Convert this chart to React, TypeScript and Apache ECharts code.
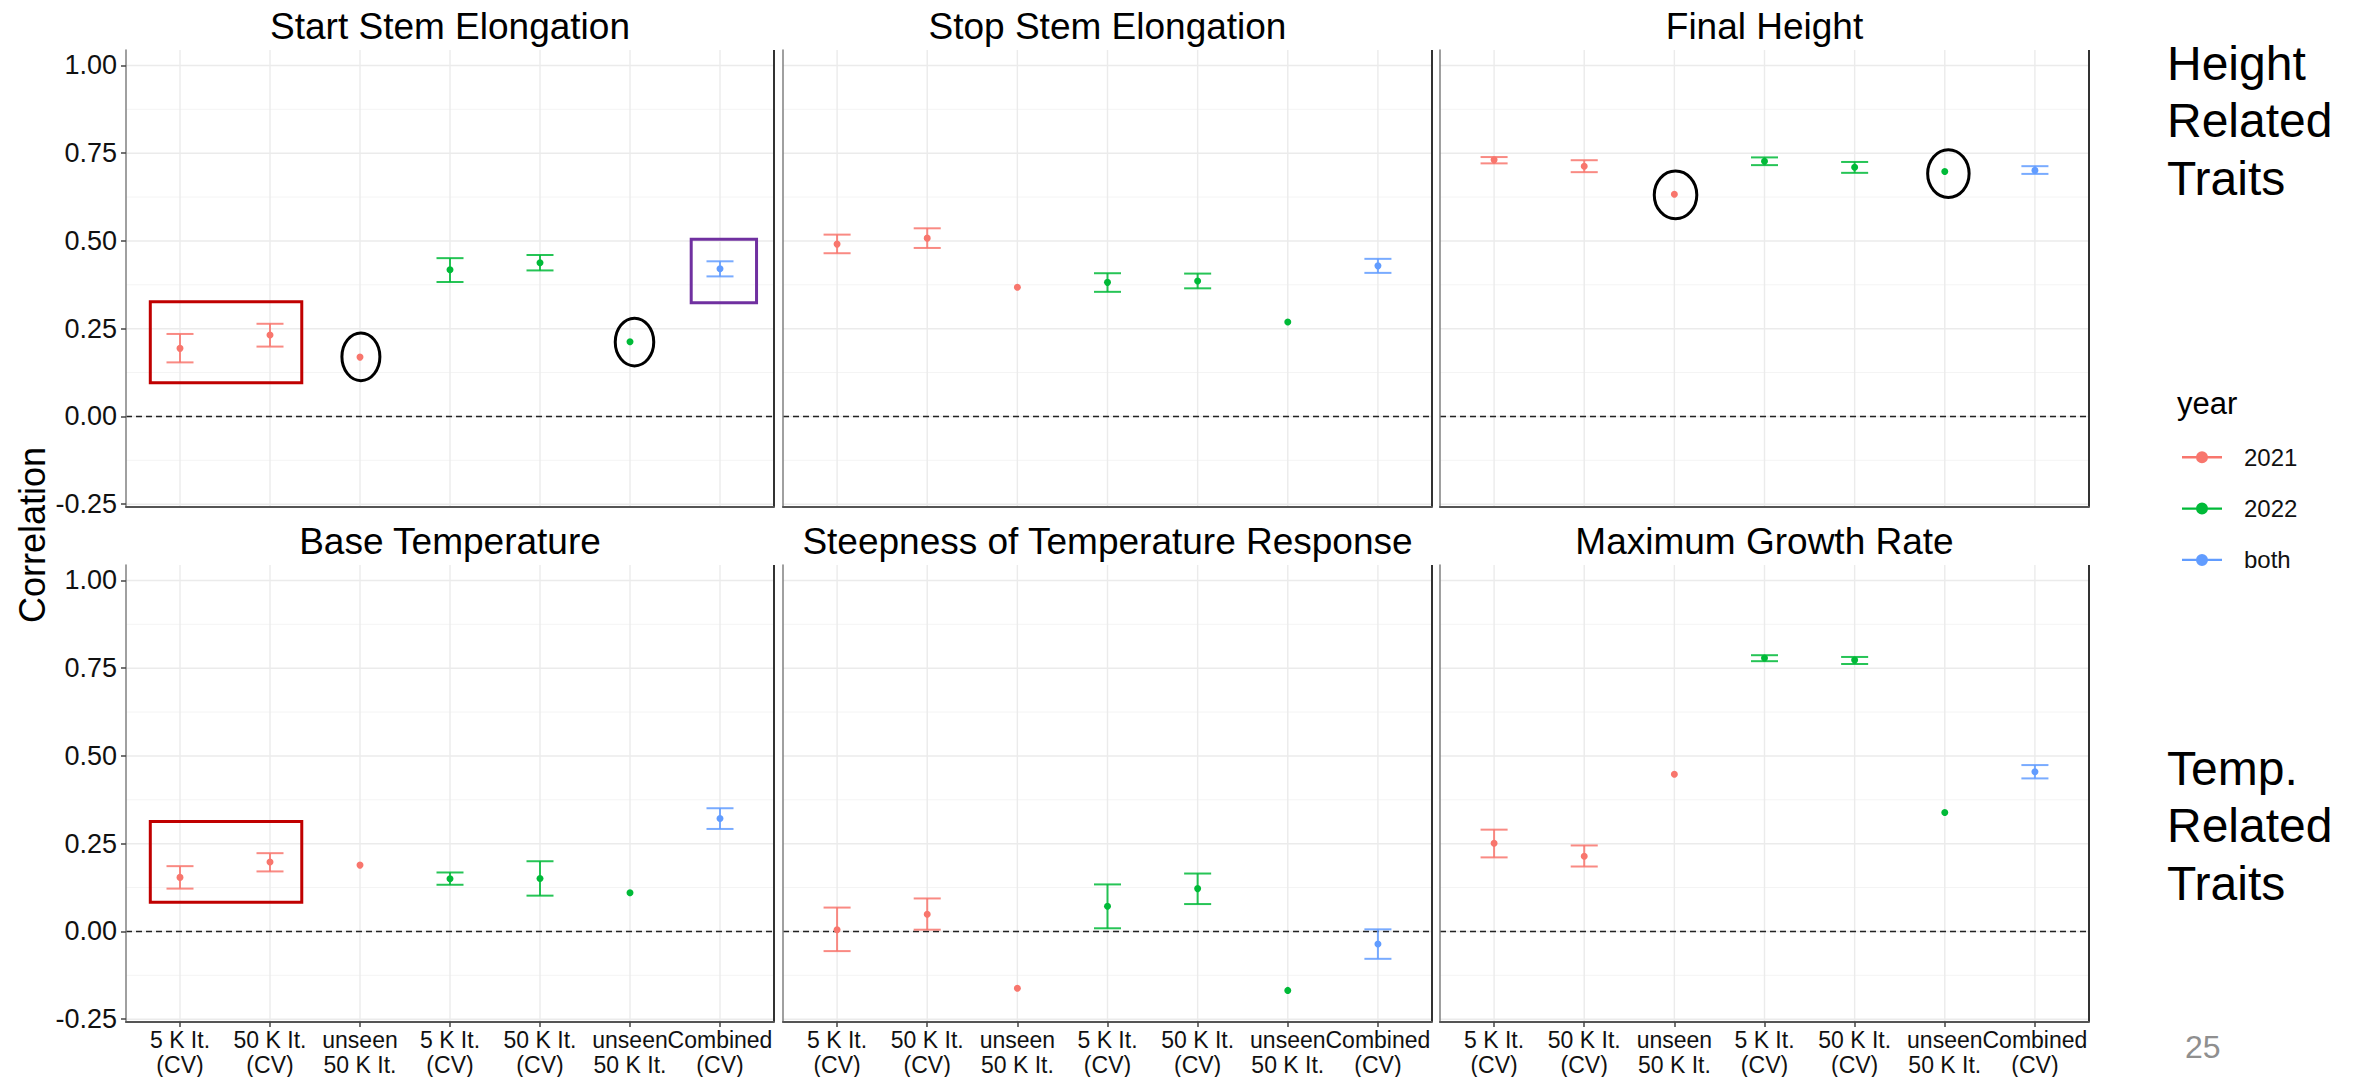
import React, { useEffect, useRef } from "react";
import * as echarts from "echarts";

// ---------- data ----------
const categories = [
  "5 K It.\n(CV)",
  "50 K It.\n(CV)",
  "unseen\n50 K It.",
  "5 K It.\n(CV)",
  "50 K It.\n(CV)",
  "unseen\n50 K It.",
  "Combined\n(CV)",
];
const categoryYear = ["2021", "2021", "2021", "2022", "2022", "2022", "both"];
const years = ["2021", "2022", "both"];
const yearColors = ["#F8766D", "#00BA38", "#619CFF"];

const panelTitles = [
  "Start Stem Elongation",
  "Stop Stem Elongation",
  "Final Height",
  "Base Temperature",
  "Steepness of Temperature Response",
  "Maximum Growth Rate",
];

const yTicks = [-0.25, 0, 0.25, 0.5, 0.75, 1.0];
const yMinorTicks = [-0.125, 0.125, 0.375, 0.625, 0.875];

const startEst = [0.194, 0.232, 0.169, 0.418, 0.438, 0.213, 0.421];
const startLo = [0.154, 0.199, null, 0.383, 0.416, null, 0.399];
const startHi = [0.235, 0.264, null, 0.451, 0.46, null, 0.442];

const stopEst = [0.491, 0.508, 0.368, 0.382, 0.386, 0.269, 0.429];
const stopLo = [0.465, 0.48, null, 0.355, 0.365, null, 0.409];
const stopHi = [0.518, 0.536, null, 0.408, 0.407, null, 0.449];

const heightEst = [0.731, 0.713, 0.633, 0.727, 0.71, 0.698, 0.701];
const heightLo = [0.721, 0.696, null, 0.716, 0.694, null, 0.691];
const heightHi = [0.739, 0.73, null, 0.738, 0.725, null, 0.713];

const baseEst = [0.154, 0.198, 0.189, 0.15, 0.151, 0.11, 0.322];
const baseLo = [0.122, 0.171, null, 0.133, 0.102, null, 0.292];
const baseHi = [0.186, 0.223, null, 0.168, 0.2, null, 0.351];

const steepEst = [0.005, 0.049, -0.162, 0.072, 0.122, -0.168, -0.036];
const steepLo = [-0.056, 0.005, null, 0.009, 0.078, null, -0.078];
const steepHi = [0.068, 0.094, null, 0.134, 0.165, null, 0.006];

const growthEst = [0.251, 0.214, 0.448, 0.779, 0.773, 0.339, 0.455];
const growthLo = [0.211, 0.185, null, 0.77, 0.762, null, 0.436];
const growthHi = [0.29, 0.245, null, 0.787, 0.782, null, 0.474];

const panelEst = [startEst, stopEst, heightEst, baseEst, steepEst, growthEst];
const panelLo = [startLo, stopLo, heightLo, baseLo, steepLo, growthLo];
const panelHi = [startHi, stopHi, heightHi, baseHi, steepHi, growthHi];

// annotations (data coordinates: category index / correlation)
const rectPanel = [0, 0, 3];
const rectX0 = [-0.33, 5.68, -0.33];
const rectX1 = [1.353, 6.406, 1.353];
const rectY0 = [0.096, 0.324, 0.083];
const rectY1 = [0.327, 0.505, 0.313];
const rectColor = ["#C00000", "#7030A0", "#C00000"];

const ellPanel = [0, 0, 2, 2];
const ellX = [2.01, 5.05, 2.013, 5.04];
const ellY = [0.17, 0.212, 0.631, 0.692];
const ellRx = [0.211, 0.214, 0.236, 0.23];
const ellRy = [0.068, 0.068, 0.068, 0.068];

const rowLabels = ["Height\nRelated\nTraits", "Temp.\nRelated\nTraits"];

// ---------- layout ----------
const FONT = "'Liberation Sans', Arial, sans-serif";
const YMIN = -0.258;
const YMAX = 1.044;
const XMIN = -0.6;
const XMAX = 6.6;
const gridLefts = [126, 783, 1440];
const gridWidths = [648, 649, 649];
const gridTops = [50, 565];
const gridHeight = 457;
const catIdx = categories.map((_, i) => i);

function buildOption() {
  const grid: any[] = [];
  const xAxis: any[] = [];
  const yAxis: any[] = [];
  const series: any[] = [];
  const graphic: any[] = [];

  for (let p = 0; p < 6; p++) {
    const r = Math.floor(p / 3);
    const c = p % 3;
    grid.push({ left: gridLefts[c], top: gridTops[r], width: gridWidths[c], height: gridHeight, containLabel: false });
    xAxis.push({
      gridIndex: p,
      type: "value",
      min: XMIN,
      max: XMAX,
      axisLine: { show: true, onZero: false, lineStyle: { color: "#555", width: 2 } },
      axisTick: { show: r === 1, customValues: catIdx, length: 5, lineStyle: { color: "#444", width: 1.5 } },
      axisLabel: {
        show: r === 1,
        customValues: catIdx,
        formatter: (v: number) => categories[Math.round(v)] ?? "",
        fontSize: 23,
        lineHeight: 25,
        color: "#111",
        fontFamily: FONT,
        margin: 5,
      },
      splitLine: { show: false },
    });
    yAxis.push({
      gridIndex: p,
      type: "value",
      min: YMIN,
      max: YMAX,
      axisLine: { show: true, onZero: false, lineStyle: { color: "#808080", width: 1.5 } },
      axisTick: { show: c === 0, customValues: yTicks, length: 5, lineStyle: { color: "#444", width: 1.5 } },
      axisLabel: {
        show: c === 0,
        customValues: yTicks,
        formatter: (v: number) => v.toFixed(2),
        fontSize: 27,
        color: "#111",
        fontFamily: FONT,
        margin: 9,
      },
      splitLine: { show: false },
    });

    // background grid lines, zero line and right border
    series.push({
      type: "custom",
      xAxisIndex: p,
      yAxisIndex: p,
      silent: true,
      z: 0,
      data: [[0, 0]],
      renderItem: (params: any, api: any) => {
        const cs = params.coordSys;
        const ch: any[] = [];
        const hline = (v: number, stroke: string, w: number, dash?: number[]) => {
          const y = api.coord([0, v])[1];
          ch.push({
            type: "line",
            shape: { x1: cs.x, y1: y, x2: cs.x + cs.width, y2: y },
            style: { stroke, lineWidth: w, lineDash: dash },
          });
        };
        yMinorTicks.forEach((v) => hline(v, "#f4f4f4", 1));
        yTicks.forEach((v) => hline(v, "#ebebeb", 1.6));
        catIdx.forEach((i) => {
          const x = api.coord([i, 0])[0];
          ch.push({
            type: "line",
            shape: { x1: x, y1: cs.y, x2: x, y2: cs.y + cs.height },
            style: { stroke: "#ebebeb", lineWidth: 1.4 },
          });
        });
        hline(0, "#222", 1.5, [6, 4]);
        ch.push({
          type: "line",
          shape: { x1: cs.x + cs.width, y1: cs.y, x2: cs.x + cs.width, y2: cs.y + cs.height },
          style: { stroke: "#333", lineWidth: 2 },
        });
        return { type: "group", children: ch };
      },
    });

    years.forEach((yr, k) => {
      const color = yearColors[k];
      const ebData: any[] = [];
      const ptData: any[] = [];
      catIdx.forEach((i) => {
        if (categoryYear[i] !== yr) return;
        ptData.push([i, panelEst[p][i]]);
        if (panelLo[p][i] !== null && panelHi[p][i] !== null) {
          ebData.push([i, panelLo[p][i], panelHi[p][i]]);
        }
      });
      series.push({
        type: "custom",
        name: yr,
        xAxisIndex: p,
        yAxisIndex: p,
        z: 2,
        itemStyle: { color },
        encode: { x: 0, y: [1, 2] },
        data: ebData,
        renderItem: (params: any, api: any) => {
          const x = api.value(0);
          const lo = api.coord([x, api.value(1)]);
          const hi = api.coord([x, api.value(2)]);
          const half = api.size([0.3, 0])[0] / 2;
          const st = { stroke: color, lineWidth: 2, opacity: 0.85 };
          return {
            type: "group",
            children: [
              { type: "line", shape: { x1: lo[0], y1: lo[1], x2: hi[0], y2: hi[1] }, style: st },
              { type: "line", shape: { x1: hi[0] - half, y1: hi[1], x2: hi[0] + half, y2: hi[1] }, style: st },
              { type: "line", shape: { x1: lo[0] - half, y1: lo[1], x2: lo[0] + half, y2: lo[1] }, style: st },
            ],
          };
        },
      });
      series.push({
        type: "scatter",
        name: yr,
        xAxisIndex: p,
        yAxisIndex: p,
        z: 3,
        symbol: "circle",
        symbolSize: 7,
        itemStyle: { color, opacity: 1 },
        data: ptData,
      });
    });

    // annotations
    const annData: any[] = [];
    rectPanel.forEach((pp, j) => {
      if (pp === p) annData.push([rectX0[j], rectY0[j], 0, j]);
    });
    ellPanel.forEach((pp, j) => {
      if (pp === p) annData.push([ellX[j], ellY[j], 1, j]);
    });
    if (annData.length) {
      series.push({
        type: "custom",
        xAxisIndex: p,
        yAxisIndex: p,
        silent: true,
        z: 5,
        encode: { x: 0, y: 1 },
        data: annData,
        renderItem: (params: any, api: any) => {
          const kind = api.value(2);
          const j = api.value(3);
          if (kind === 0) {
            const a = api.coord([rectX0[j], rectY1[j]]);
            const b = api.coord([rectX1[j], rectY0[j]]);
            return {
              type: "rect",
              shape: { x: a[0], y: a[1], width: b[0] - a[0], height: b[1] - a[1] },
              style: { fill: "none", stroke: rectColor[j], lineWidth: 3 },
            };
          }
          const cc = api.coord([ellX[j], ellY[j]]);
          const sz = api.size([ellRx[j], ellRy[j]]);
          return {
            type: "ellipse",
            shape: { cx: cc[0], cy: cc[1], rx: sz[0], ry: sz[1] },
            style: { fill: "none", stroke: "#000", lineWidth: 3 },
          };
        },
      });
    }

    // panel title
    graphic.push({
      type: "text",
      x: gridLefts[c] + gridWidths[c] / 2,
      y: gridTops[r] - 24,
      style: {
        text: panelTitles[p],
        fontSize: 37,
        fontFamily: FONT,
        fill: "#000",
        align: "center",
        verticalAlign: "middle",
      },
    });
  }

  rowLabels.forEach((t, r) => {
    graphic.push({
      type: "text",
      x: 2167,
      y: r === 0 ? 34.6 : 739.3,
      style: { text: t, fontSize: 48, lineHeight: 57.5, fontFamily: FONT, fill: "#000", align: "left", verticalAlign: "top" },
    });
  });
  graphic.push({
    type: "text",
    x: 2177,
    y: 403,
    style: { text: "year", fontSize: 31, fontFamily: FONT, fill: "#000", align: "left", verticalAlign: "middle" },
  });
  graphic.push({
    type: "text",
    x: 2185,
    y: 1046.5,
    style: { text: "25", fontSize: 32, fontFamily: FONT, fill: "#8f8f8f", align: "left", verticalAlign: "middle" },
  });
  graphic.push({
    type: "text",
    x: 32.5,
    y: 535,
    rotation: Math.PI / 2,
    style: { text: "Correlation", fontSize: 36, fontFamily: FONT, fill: "#000", align: "center", verticalAlign: "middle" },
  });

  const legendIcon =
    "path://M0,4.8 L40,4.8 L40,7.2 L0,7.2 Z M14,6 A6,6 0 1 1 26,6 A6,6 0 1 1 14,6 Z";

  return {
    animation: false,
    backgroundColor: "#fff",
    grid,
    xAxis,
    yAxis,
    series,
    graphic,
    legend: {
      data: years.map((name) => ({ name, icon: legendIcon })),
      orient: "vertical",
      left: 2182,
      top: 445.3,
      padding: 0,
      itemWidth: 40,
      itemHeight: 12,
      itemGap: 27.3,
      selectedMode: false,
      textStyle: { fontSize: 24, lineHeight: 12, color: "#111", fontFamily: FONT, padding: [0, 0, 0, 17] },
    },
  };
}

export default function App() {
  const ref = useRef<HTMLDivElement>(null);
  useEffect(() => {
    if (!ref.current) return;
    const chart = echarts.init(ref.current, undefined, { renderer: "svg" });
    chart.setOption(buildOption() as any);
    return () => chart.dispose();
  }, []);
  return (
    <div
      ref={ref}
      style={{ position: "fixed", left: 0, top: 0, width: 2356, height: 1077, background: "#fff" }}
    />
  );
}
